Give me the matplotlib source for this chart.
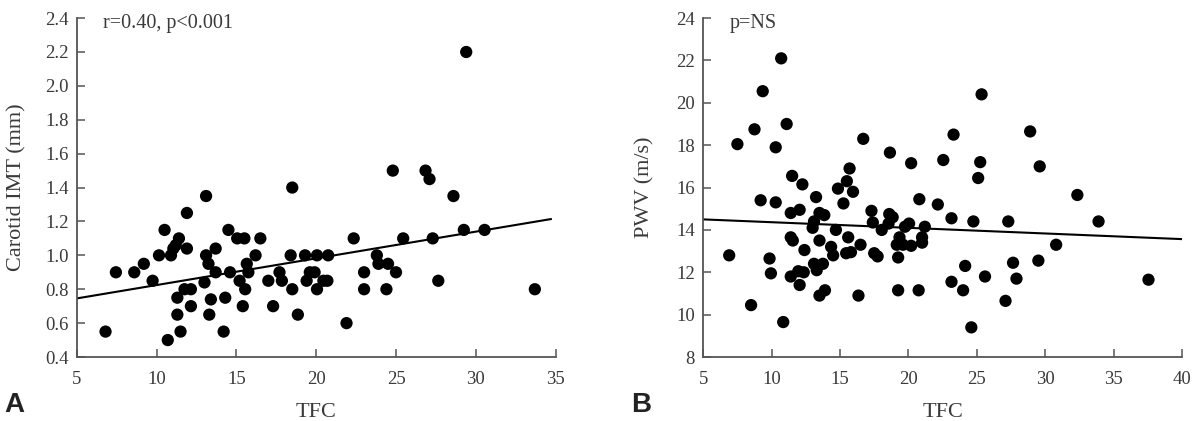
import numpy as np
import matplotlib
matplotlib.use('Agg')
import matplotlib.pyplot as plt

# panel A: TFC vs carotid IMT
tfc_a = [6.8, 7.45, 8.6, 9.2, 9.75, 10.15, 10.5, 10.7, 10.9, 11.05, 11.2, 11.4, 11.3, 11.3,
         11.5, 11.75, 11.9, 11.9, 12.15, 12.15, 13.0, 13.1, 13.25, 13.3, 13.4, 13.1, 13.7,
         13.7, 14.2, 14.3, 14.5, 14.6, 15.05, 15.2, 15.4, 15.5, 15.55, 15.65, 15.75, 16.2,
         16.5, 17.0, 17.3, 17.7, 17.85, 18.4, 18.5, 18.85, 18.5, 19.3, 19.4, 19.6, 19.9,
         20.05, 20.05, 20.45, 20.7, 20.75, 21.9, 22.35, 23.0, 23.0, 23.8, 23.9, 24.5, 24.4,
         25.0, 25.45, 27.3, 27.65, 29.25, 30.55, 33.7, 24.8, 26.85, 27.1, 28.6, 29.4]
imt_a = [0.55, 0.90, 0.90, 0.95, 0.85, 1.00, 1.15, 0.50, 1.00, 1.04, 1.06, 1.10, 0.75, 0.65,
         0.55, 0.80, 1.04, 1.25, 0.80, 0.70, 0.84, 1.00, 0.95, 0.65, 0.74, 1.35, 1.04,
         0.90, 0.55, 0.75, 1.15, 0.90, 1.10, 0.85, 0.70, 1.10, 0.80, 0.95, 0.90, 1.00,
         1.10, 0.85, 0.70, 0.90, 0.85, 1.00, 0.80, 0.65, 1.40, 1.00, 0.85, 0.90, 0.90,
         1.00, 0.80, 0.85, 0.85, 1.00, 0.60, 1.10, 0.90, 0.80, 1.00, 0.95, 0.95, 0.80,
         0.90, 1.10, 1.10, 0.85, 1.15, 1.15, 0.80, 1.50, 1.50, 1.45, 1.35, 2.20]
fit_a = (0.01576, 0.667)   # slope, intercept
fit_a_range = (5, 34.7)

# panel B: TFC vs PWV
tfc_b = [6.9, 7.5, 8.5, 8.75, 9.2, 9.35, 9.85, 9.95, 10.3, 10.3, 10.7, 10.85, 11.1, 11.5,
         11.4, 11.4, 11.55, 11.4, 11.95, 12.05, 12.05, 12.25, 12.35, 12.4, 13.0, 13.1, 13.1,
         13.25, 13.3, 13.5, 13.5, 13.5, 13.75, 13.85, 13.9, 14.35, 14.5, 14.7, 14.85, 15.25,
         15.45, 15.5, 15.6, 15.7, 15.8, 15.95, 16.35, 16.5, 16.7, 17.3, 17.4, 17.5, 17.75,
         18.05, 18.55, 18.6, 18.65, 18.85, 19.15, 19.25, 19.25, 19.35, 19.6, 19.75, 20.05,
         20.2, 20.2, 20.75, 20.8, 21.0, 21.0, 21.2, 22.15, 22.55, 23.15, 23.15, 23.3, 24.0,
         24.15, 24.6, 24.75, 25.1, 25.25, 25.35, 25.6, 27.1, 27.3, 27.65, 27.9, 28.9, 29.5,
         29.6, 30.8, 32.35, 33.9, 37.55]
pwv_b = [12.8, 18.05, 10.45, 18.75, 15.4, 20.55, 12.65, 11.95, 17.9, 15.3, 22.1, 9.65, 19.0,
         16.55, 14.8, 13.65, 13.5, 11.8, 12.05, 14.95, 11.4, 16.15, 12.0, 13.05, 14.1, 14.4,
         12.4, 15.55, 12.1, 14.8, 13.5, 10.9, 12.4, 14.7, 11.15, 13.2, 12.8, 14.0, 15.95,
         15.25, 12.9, 16.3, 13.65, 16.9, 12.95, 15.8, 10.9, 13.3, 18.3, 14.9, 14.35, 12.9,
         12.75, 14.0, 14.3, 14.75, 17.65, 14.6, 13.3, 12.7, 11.15, 13.65, 13.3, 14.15, 14.3,
         17.15, 13.25, 11.15, 15.45, 13.65, 13.4, 14.15, 15.2, 17.3, 14.55, 11.55, 18.5, 11.15,
         12.3, 9.4, 14.4, 16.45, 17.2, 20.4, 11.8, 10.65, 14.4, 12.45, 11.7, 18.65, 12.55,
         17.0, 13.3, 15.65, 14.4, 11.65]
fit_b = (-0.0266, 14.63)
fit_b_range = (5, 40)

plt.rcParams['font.family'] = ['Liberation Serif', 'DejaVu Serif']
gray = '#555555'
txt = '#3a3a3a'

fig = plt.figure(figsize=(12, 4.21), dpi=100)
ax_a = fig.add_axes([0.064, 0.152, 0.399, 0.805])
ax_b = fig.add_axes([0.586, 0.152, 0.399, 0.805])

panels = [
    (ax_a, tfc_a, imt_a, fit_a, fit_a_range, (5, 35), np.arange(5, 36, 5),
     (0.4, 2.4), np.arange(0.4, 2.41, 0.2), '%.1f', 'Carotid IMT (mm)', 'r=0.40, p<0.001', 'A', -0.106),
    (ax_b, tfc_b, pwv_b, fit_b, fit_b_range, (5, 40), np.arange(5, 41, 5),
     (8, 24), np.arange(8, 25, 2), '%d', 'PWV (m/s)', 'p=NS', 'B', -0.102),
]

for ax, x, y, fit, frange, xlim, xticks, ylim, yticks, yfmt, ylabel, note, tag, ylx in panels:
    ax.scatter(x, y, s=78, color='black', edgecolors='none', zorder=3, clip_on=False)
    xf = np.array(frange)
    ax.plot(xf, fit[0] * xf + fit[1], color='black', lw=1.5, zorder=2)
    ax.set_xlim(*xlim)
    ax.set_ylim(*ylim)
    ax.set_xticks(xticks)
    ax.set_yticks(yticks)
    ax.set_yticklabels([yfmt % v for v in yticks])
    for s in ['top', 'right']:
        ax.spines[s].set_visible(False)
    for s in ['left', 'bottom']:
        ax.spines[s].set_color(gray)
        ax.spines[s].set_linewidth(1.3)
    ax.tick_params(direction='in', length=5.5, width=1.1, color=gray,
                   labelcolor=txt, labelsize=13.5)
    ax.tick_params(axis='x', pad=10)
    ax.tick_params(axis='y', pad=6)
    ax.set_ylabel(ylabel, fontsize=16, color=txt)
    ax.yaxis.set_label_coords(ylx, 0.5)
    ax.set_xlabel('TFC', fontsize=16, color=txt)
    ax.xaxis.set_label_coords(0.5, -0.135)
    ax.text(0.055, 0.985, note, transform=ax.transAxes, fontsize=14.5,
            color=txt, va='center', ha='left')
    pos = ax.get_position()
    fig.text(pos.x0 - 0.06, 0.006, tag, fontsize=20, fontweight='bold',
             family='Liberation Sans', color='#222222', ha='left', va='bottom')

fig.savefig('out.png', dpi=100)
